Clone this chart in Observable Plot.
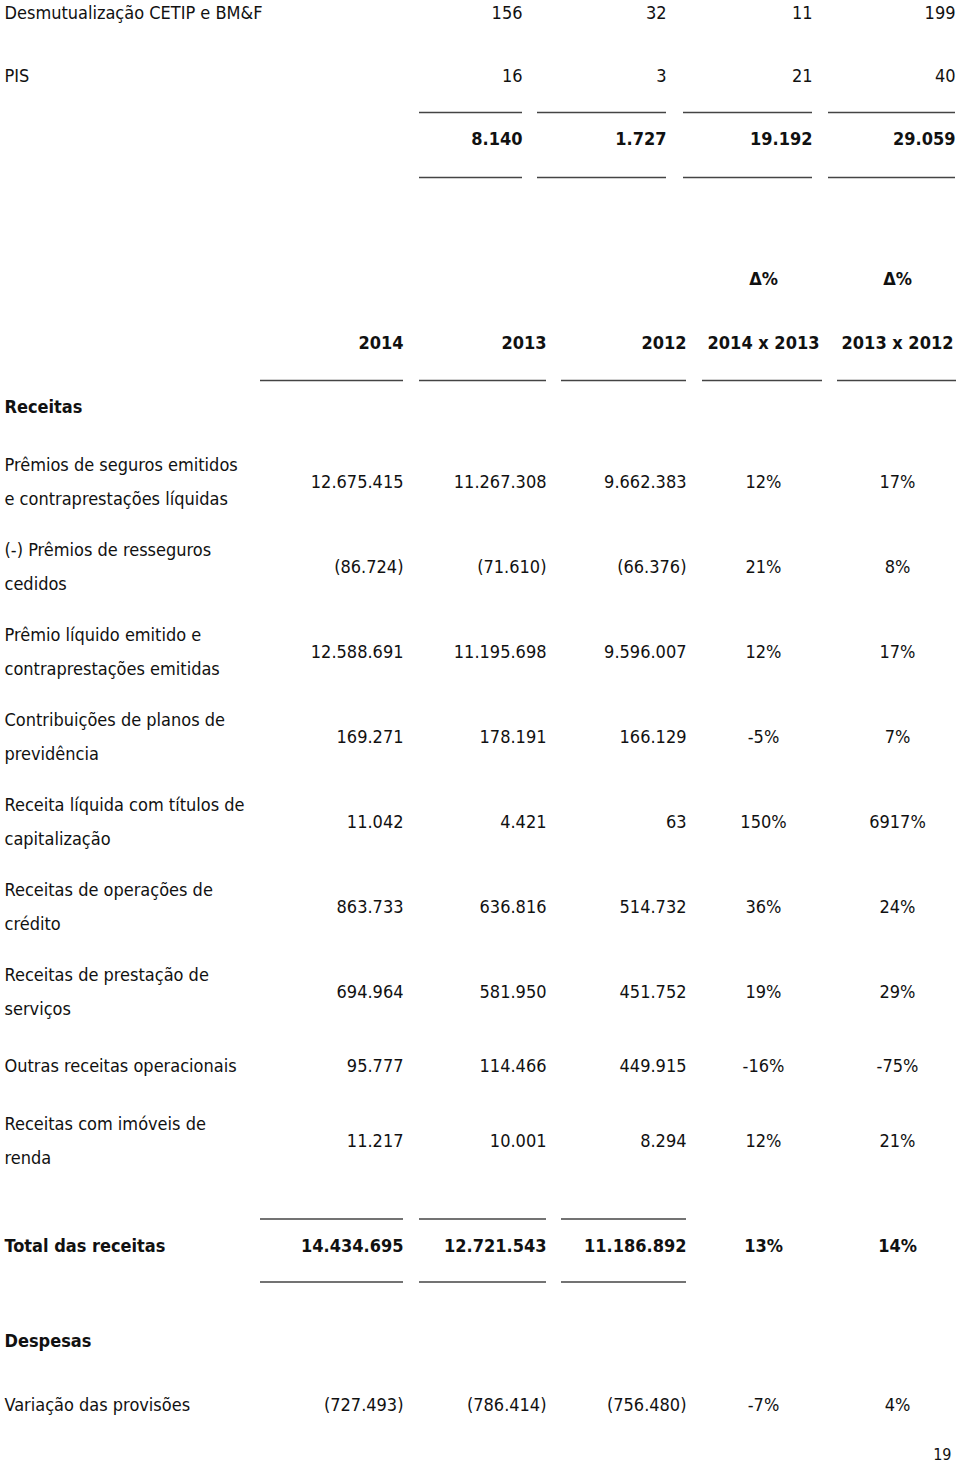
<!DOCTYPE html>
<html>
<head>
<meta charset="utf-8">
<script src="https://cdn.jsdelivr.net/npm/d3@7"></script>
<script src="https://cdn.jsdelivr.net/npm/@observablehq/plot@0.6"></script>
<style>
  html, body { margin: 0; padding: 0; background: #fff; }
  #chart svg { display: block; }
</style>
</head>
<body>
<div id="chart"></div>
<script>
// ---------- DATA ----------
// Upper (continued) table
const topLabels = ["Desmutualização CETIP e BM&F", "PIS"];
const topCol1 = [156, 16];
const topCol2 = [32, 3];
const topCol3 = [11, 21];
const topCol4 = [199, 40];
const topTotals = [8140, 1727, 19192, 29059];

// Main table
const years = ["2014", "2013", "2012"];
const deltaHeaders = ["2014 x 2013", "2013 x 2012"];
const deltaTitle = "Δ%";
const sectionRevenue = "Receitas";
const sectionExpense = "Despesas";
const itemLabels = [
  "Prêmios de seguros emitidos\ne contraprestações líquidas",
  "(-) Prêmios de resseguros\ncedidos",
  "Prêmio líquido emitido e\ncontraprestações emitidas",
  "Contribuições de planos de\nprevidência",
  "Receita líquida com títulos de\ncapitalização",
  "Receitas de operações de\ncrédito",
  "Receitas de prestação de\nserviços",
  "Outras receitas operacionais",
  "Receitas com imóveis de\nrenda"
];
const v2014 = [12675415, -86724, 12588691, 169271, 11042, 863733, 694964, 95777, 11217];
const v2013 = [11267308, -71610, 11195698, 178191, 4421, 636816, 581950, 114466, 10001];
const v2012 = [9662383, -66376, 9596007, 166129, 63, 514732, 451752, 449915, 8294];
const d1413 = [12, 21, 12, -5, 150, 36, 19, -16, 12];
const d1312 = [17, 8, 17, 7, 6917, 24, 29, -75, 21];

const totalLabel = "Total das receitas";
const totalValues = [14434695, 12721543, 11186892];
const totalDeltas = [13, 14];

const expenseLabels = ["Variação das provisões"];
const e2014 = [-727493];
const e2013 = [-786414];
const e2012 = [-756480];
const e1413 = [-7];
const e1312 = [4];

const pageNumber = "19";

// ---------- FORMAT ----------
const loc = d3.formatLocale({decimal: ",", thousands: ".", grouping: [3], currency: ["R$", ""]});
const fInt = loc.format(",d");
const fmtNum = v => v < 0 ? `(${fInt(-v)})` : fInt(v);
const fmtPct = v => `${v}%`;

// ---------- LAYOUT (page geometry, in px) ----------
const W = 960, H = 1466;
const FONT = "'DejaVu Sans Condensed', 'DejaVu Sans', Tahoma, sans-serif";
const FS = 18;
const INK = "#111";
const RULE = "#444";
const TEXT_DY = -4;

const topRight = [522, 666, 812, 955];
const topRuleSpans = [[419, 522], [537, 666], [683, 812], [828, 955]];
const valRight = [403, 546, 686];
const deltaCenter = [763, 897];
const headRuleSpans = [[260, 403], [419, 546], [561, 686], [702, 822], [837, 956]];
const labelX = 4;

// vertical cursor
const topY0 = 12, topPitch = 63;
const topRows = topLabels.map((label, i) => ({label, y: topY0 + topPitch * i,
  vals: [topCol1[i], topCol2[i], topCol3[i], topCol4[i]]}));
const topTotalY = topY0 + topPitch * topLabels.length;
const topRule1Y = topTotalY - 26;
const topRule2Y = topTotalY + 39;

const deltaTitleY = 278;
const headerY = deltaTitleY + 64;
const headRuleY = headerY + 38;
const revenueY = headerY + 64;

const half = lines => lines > 1 ? 42.5 : 32;
let cursor = revenueY, prevLines = 1;
const items = itemLabels.map((label, i) => {
  const lines = label.split("\n").length;
  cursor += half(prevLines) + half(lines);
  prevLines = lines;
  return {label, y: cursor, vals: [v2014[i], v2013[i], v2012[i]], deltas: [d1413[i], d1312[i]]};
});
const totalY = cursor + half(prevLines) + 32 + 30.5;
const totRule1Y = totalY - 26;
const totRule2Y = totalY + 37;
const expenseY = totalY + 95;
const expenseRows = expenseLabels.map((label, i) => ({label, y: expenseY + 64 * (i + 1),
  vals: [e2014[i], e2013[i], e2012[i]], deltas: [e1413[i], e1312[i]]}));
const pageY = expenseRows[expenseRows.length - 1].y + 53;

// ---------- TABLE RECORDS ----------
const cellsNormal = [];   // {x, y, text, anchor}
const cellsBold = [];
const rules = [];         // {x1, x2, y}

topRows.forEach(r => {
  cellsNormal.push({x: labelX, y: r.y, text: r.label, anchor: "start"});
  r.vals.forEach((v, j) => cellsNormal.push({x: topRight[j], y: r.y, text: fmtNum(v), anchor: "end"}));
});
topTotals.forEach((v, j) => cellsBold.push({x: topRight[j], y: topTotalY, text: fmtNum(v), anchor: "end"}));
topRuleSpans.forEach(([a, b]) => {
  rules.push({x1: a, x2: b, y: topRule1Y});
  rules.push({x1: a, x2: b, y: topRule2Y});
});

deltaCenter.forEach(c => cellsBold.push({x: c, y: deltaTitleY, text: deltaTitle, anchor: "middle"}));
years.forEach((yr, j) => cellsBold.push({x: valRight[j], y: headerY, text: yr, anchor: "end"}));
deltaHeaders.forEach((h, j) => cellsBold.push({x: deltaCenter[j], y: headerY, text: h, anchor: "middle"}));
headRuleSpans.forEach(([a, b]) => rules.push({x1: a, x2: b, y: headRuleY}));
cellsBold.push({x: labelX, y: revenueY, text: sectionRevenue, anchor: "start"});

const pushRow = r => {
  cellsNormal.push({x: labelX, y: r.y, text: r.label, anchor: "start"});
  r.vals.forEach((v, j) => cellsNormal.push({x: valRight[j], y: r.y, text: fmtNum(v), anchor: "end"}));
  r.deltas.forEach((d, j) => cellsNormal.push({x: deltaCenter[j], y: r.y, text: fmtPct(d), anchor: "middle"}));
};
items.forEach(pushRow);

cellsBold.push({x: labelX, y: totalY, text: totalLabel, anchor: "start"});
totalValues.forEach((v, j) => cellsBold.push({x: valRight[j], y: totalY, text: fmtNum(v), anchor: "end"}));
totalDeltas.forEach((d, j) => cellsBold.push({x: deltaCenter[j], y: totalY, text: fmtPct(d), anchor: "middle"}));
headRuleSpans.slice(0, 3).forEach(([a, b]) => {
  rules.push({x1: a, x2: b, y: totRule1Y});
  rules.push({x1: a, x2: b, y: totRule2Y});
});

cellsBold.push({x: labelX, y: expenseY, text: sectionExpense, anchor: "start"});
expenseRows.forEach(pushRow);

cellsNormal.push({x: 951, y: pageY, text: pageNumber, anchor: "end", small: true});

// ---------- PLOT ----------
const textMarks = (data, weight) => ["start", "middle", "end"].map(a =>
  Plot.text(data.filter(d => d.anchor === a && !d.small), {
    x: "x", y: "y", text: "text", textAnchor: a, lineAnchor: "middle",
    lineHeight: 34 / FS, fontSize: FS, fontWeight: weight, fill: INK, dy: TEXT_DY
  })
);

const chart = Plot.plot({
  width: W, height: H,
  margin: 0,
  style: {fontFamily: FONT, background: "#fff", color: INK},
  x: {type: "linear", domain: [0, W], range: [0, W], axis: null},
  y: {type: "linear", domain: [0, H], range: [0, H], axis: null},
  marks: [
    Plot.ruleY(rules, {y: "y", x1: "x1", x2: "x2", stroke: RULE, strokeWidth: 1.5}),
    ...textMarks(cellsNormal, "normal"),
    ...textMarks(cellsBold, "bold"),
    Plot.text(cellsNormal.filter(d => d.small), {x: "x", y: "y", text: "text", textAnchor: "end",
      fontSize: 16, fill: INK, dy: TEXT_DY + 2})
  ]
});
document.getElementById("chart").appendChild(chart);
</script>
</body>
</html>
